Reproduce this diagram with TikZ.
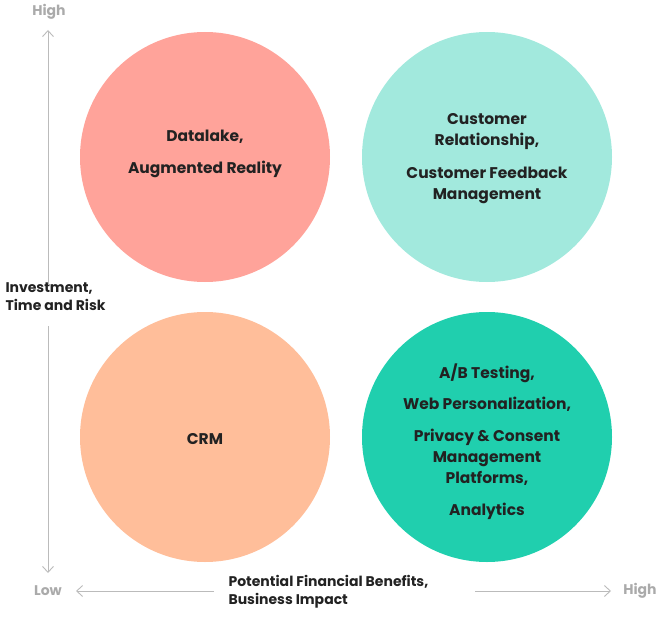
\documentclass[tikz,border=0pt]{standalone}
\usepackage{fontspec}
\setmainfont{Poppins}
\usetikzlibrary{arrows.meta}
\definecolor{cpink}{HTML}{FFA39A}
\definecolor{cmint}{HTML}{A2E9DD}
\definecolor{cpeach}{HTML}{FFBE9A}
\definecolor{cteal}{HTML}{20CFAE}
\definecolor{ctxt}{HTML}{222222}
\definecolor{cgray}{HTML}{AAAAAA}
\tikzset{
 bubble/.style={circle,minimum size=250pt,inner sep=0pt},
 btext/.style={font=\fontsize{15.5}{21}\selectfont\bfseries,text=ctxt,align=center},
 axis/.style={draw=cgray!80,line width=0.9pt,-{Straight Barb[length=6pt,width=11pt]}},
 axlab/.style={font=\fontsize{14}{16}\selectfont\bfseries,text=cgray},
 axtitle/.style={font=\fontsize{14}{18}\selectfont\bfseries,text=ctxt,align=left}
}
\begin{document}
\begin{tikzpicture}[x=1pt,y=-1pt]
\useasboundingbox (0,0) rectangle (670,618);
\node[bubble,fill=cpink] (tl) at (205,157) {};
\node[bubble,fill=cmint] (tr) at (487,157) {};
\node[bubble,fill=cpeach] (bl) at (205,437) {};
\node[bubble,fill=cteal] (br) at (487,437) {};
\node[btext] at (205,137) {Datalake,};
\node[btext] at (205,169) {Augmented Reality};
\node[btext] at (487,132) {Customer\\Relationship,};
\node[btext] at (487,185) {Customer Feedback\\Management};
\node[btext] at (205,439) {CRM};
\node[btext] at (487,373) {A/B Testing,};
\node[btext] at (487,404) {Web Personalization,};
\node[btext] at (487,457) {Privacy \& Consent\\Management\\Platforms,};
\node[btext] at (487,511) {Analytics};
\node[axlab] (hy) at (49,12) {High};
\node[axlab] (ly) at (48,591) {Low};
\node[axlab] (hx) at (640,591) {High};
\node[axtitle,anchor=west] (yt) at (2,297) {Investment,\\Time and Risk};
\node[axtitle,anchor=west] (xt) at (225,592) {Potential Financial Benefits,\\Business Impact};
\coordinate (y1) at (48,285); \coordinate (y1e) at (48,30);
\coordinate (y2) at (48,326); \coordinate (y2e) at (48,573);
\coordinate (x1) at (214,591); \coordinate (x1e) at (76,591);
\coordinate (x2) at (475,591); \coordinate (x2e) at (611,591);
\draw[axis] (y1) -- (y1e);
\draw[axis] (y2) -- (y2e);
\draw[axis] (x1) -- (x1e);
\draw[axis] (x2) -- (x2e);
\end{tikzpicture}
\end{document}
